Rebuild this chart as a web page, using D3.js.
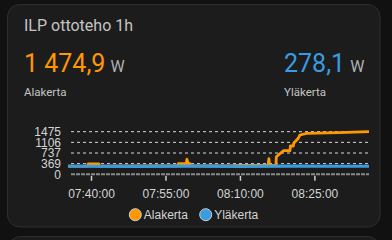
<!DOCTYPE html>
<html>
<head>
<meta charset="utf-8">
<script src="https://cdn.jsdelivr.net/npm/d3@7"></script>
<style>
  html, body { margin: 0; padding: 0; background: #111111; }
  svg { display: block; }
</style>
</head>
<body>
<div id="chart"></div>
<script>
const COrange = "#ff9800"
const CBlue = "#3a9ce0"

// sarjat
const seriesNames = ["Alakerta", "Yläkerta"]
const currentValues = ["1 474,9", "278,1"]
const unit = "W"

const alakertaTimes = ["07:35:22", "07:39:20", "07:39:25", "07:41:35", "07:41:40", "07:52:00", "07:57:30", "07:57:35",
  "07:59:10", "07:59:20", "07:59:35", "07:59:55", "08:00:00", "08:08:00", "08:10:00", "08:15:40", "08:15:50",
  "08:16:00", "08:17:15", "08:17:20", "08:18:45", "08:20:05", "08:20:10", "08:20:45", "08:20:50", "08:21:45",
  "08:22:05", "08:23:28", "08:30:00", "08:36:00"]
const alakertaValues = [280, 285, 357, 357, 280, 290, 295, 370,
  370, 520, 370, 370, 290, 295, 305, 310, 540,
  310, 310, 609, 817, 817, 980, 980, 1074, 1247,
  1361, 1420, 1445, 1474.9]

const ylakertaTimes = ["07:35:22", "07:50:00", "08:00:00", "08:10:00", "08:20:00", "08:30:00", "08:36:00"]
const ylakertaValues = [278, 276, 280, 275, 282, 279, 278.1]

const xTickTimes = ["07:40:00", "07:55:00", "08:10:00", "08:25:00"]
const yMax = 1474.9

const width = 392
const height = 240
const parse = d3.timeParse("%H:%M:%S")

const svg = d3.select("#chart")
  .append("svg")
  .attr("width", width)
  .attr("height", height)

// kortit
svg.append("rect")
  .attr("x", 7.5).attr("y", 4.5)
  .attr("width", 372.5).attr("height", 222.5)
  .attr("rx", 12)
  .attr("fill", "#1c1c1c")
  .attr("stroke", "#2e2e2e")
svg.append("rect")
  .attr("x", 8.5).attr("y", 236.5)
  .attr("width", 371).attr("height", 40)
  .attr("rx", 12)
  .attr("fill", "#1c1c1c")
  .attr("stroke", "#2e2e2e")

// otsikko
svg.append("text")
  .attr("x", 24).attr("y", 31)
  .attr("font-family", "Roboto")
  .attr("font-size", 16)
  .attr("fill", "#c4c4c4")
  .text("ILP ottoteho 1h")

// nykyarvot
const headX = [24, 284]
const headColors = [COrange, CBlue]
seriesNames.forEach((name, i) => {
  const t = svg.append("text")
    .attr("x", headX[i]).attr("y", 72)
    .attr("font-family", "Roboto")
  t.append("tspan")
    .attr("font-size", 25)
    .attr("fill", headColors[i])
    .text(currentValues[i])
  t.append("tspan")
    .attr("dx", 5)
    .attr("font-size", 16)
    .attr("fill", "#b0b0b0")
    .text(unit)
  svg.append("text")
    .attr("x", headX[i]).attr("y", 96)
    .attr("font-family", "Roboto")
    .attr("font-size", 11.5)
    .attr("fill", "#c4c4c4")
    .text(name)
})

// asteikot
const x = d3.scaleTime()
  .domain([parse("07:35:22"), parse("08:36:00")])
  .range([68, 369])
const y = d3.scaleLinear()
  .domain([0, yMax])
  .range([174.3, 131.7])

const yTicks = d3.range(5).map(i => yMax * i / 4)

// ruudukko
svg.append("g")
  .selectAll("line")
  .data(yTicks.slice(1))
  .join("line")
  .attr("x1", 71).attr("x2", 369)
  .attr("y1", d => y(d)).attr("y2", d => y(d))
  .attr("stroke", "#d8d8d8")
  .attr("stroke-width", 1)
  .attr("stroke-dasharray", "3,3")

svg.append("line")
  .attr("x1", 71).attr("x2", 369)
  .attr("y1", y(0)).attr("y2", y(0))
  .attr("stroke", "#8a8a8a")
  .attr("stroke-width", 2)
  .attr("stroke-dasharray", "4,1")

// y-akseli
svg.append("g")
  .selectAll("text")
  .data(yTicks)
  .join("text")
  .attr("x", 61)
  .attr("y", d => y(d))
  .attr("dy", "0.36em")
  .attr("text-anchor", "end")
  .attr("font-family", "Liberation Sans")
  .attr("font-size", 12)
  .attr("fill", "#d4d4d4")
  .text(d => d3.format(".0f")(d))

// x-akseli
const xAxis = svg.append("g")
  .attr("transform", `translate(0,${y(0) + 1.5})`)
  .call(d3.axisBottom(x)
    .tickValues(xTickTimes.map(parse))
    .tickFormat(d3.timeFormat("%H:%M:%S"))
    .tickSize(5)
    .tickPadding(9))
xAxis.select(".domain").remove()
xAxis.selectAll(".tick line")
  .attr("stroke", "#cfcfcf")
  .attr("stroke-width", 1.5)
xAxis.selectAll(".tick text")
  .attr("font-family", "Liberation Sans")
  .attr("font-size", 12)
  .attr("fill", "#d4d4d4")

// viivat
const line = d3.line()
  .x(d => x(d[0]))
  .y(d => y(d[1]))

const alakerta = alakertaTimes.map((t, i) => [parse(t), alakertaValues[i]])
const ylakerta = ylakertaTimes.map((t, i) => [parse(t), ylakertaValues[i]])

svg.append("path")
  .datum(alakerta)
  .attr("d", line)
  .attr("fill", "none")
  .attr("stroke", COrange)
  .attr("stroke-width", 2.8)
  .attr("stroke-linejoin", "round")

svg.append("path")
  .datum(ylakerta)
  .attr("d", line)
  .attr("fill", "none")
  .attr("stroke", CBlue)
  .attr("stroke-width", 3.2)

// selite
const legendX = [135.3, 205.7]
seriesNames.forEach((name, i) => {
  svg.append("circle")
    .attr("cx", legendX[i]).attr("cy", 214.7)
    .attr("r", 6)
    .attr("fill", headColors[i])
    .attr("stroke", "#d0d0d0")
    .attr("stroke-width", 1)
  svg.append("text")
    .attr("x", legendX[i] + 8.5).attr("y", 219)
    .attr("font-family", "Liberation Sans")
    .attr("font-size", 12)
    .attr("fill", "#d4d4d4")
    .text(name)
})
</script>
</body>
</html>
